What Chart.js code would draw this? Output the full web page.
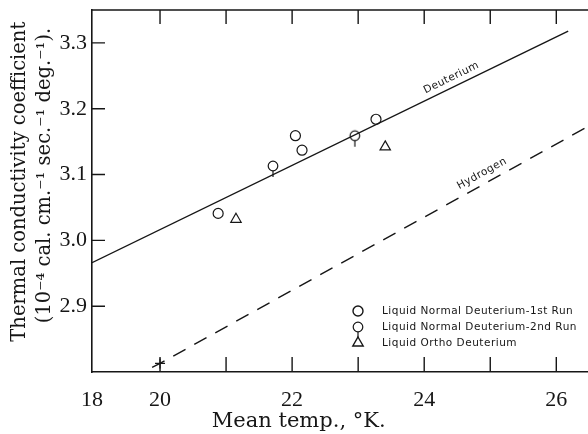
<!DOCTYPE html>
<html>
<head>
<meta charset="utf-8">
<script src="https://cdn.jsdelivr.net/npm/chart.js@4.4.1/dist/chart.umd.min.js"></script>
<style>
  html, body { margin: 0; padding: 0; background: #fff; }
  #wrap { width: 588px; height: 434px; }
</style>
</head>
<body>
<div id="wrap"><canvas id="conductivityChart" width="588" height="434"></canvas></div>
<script>
// Fitted lines, end points
const deuteriumX = [18.97, 26.18];
const deuteriumY = [2.966, 3.318];
const hydrogenX = [19.88, 20.0, 26.48];
const hydrogenY = [2.807, 2.813, 3.173];

// Measured points
const run1X = [20.88, 22.05, 22.15, 23.27];
const run1Y = [3.041, 3.159, 3.137, 3.184];
const run2X = [21.71, 22.95];
const run2Y = [3.113, 3.159];
const orthoX = [21.15, 23.41];
const orthoY = [3.032, 3.142];

// Axes
const xMin = 18.97, xMax = 26.48;
const xTicks = [20, 21, 22, 23, 24, 25, 26];
const xTickLabels = ['18', '20', '', '22', '', '24', '', '26'];
const yMin = 2.8, yMax = 3.35;
const yTicks = [2.9, 3.0, 3.1, 3.2, 3.3];

const legendLabels = [
    'Liquid Normal Deuterium-1st Run',
    'Liquid Normal Deuterium-2nd Run',
    'Liquid Ortho Deuterium'
];

const ink = '#161616';
const toPoints = (xs, ys) => xs.map((v, i) => ({x: v, y: ys[i]}));

// circle with a little stem underneath (2nd run symbol)
function stemCircle() {
    const c = document.createElement('canvas');
    c.width = 14; c.height = 34;
    const g = c.getContext('2d');
    g.strokeStyle = ink; g.lineWidth = 1.2;
    g.beginPath(); g.arc(7, 17, 4.8, 0, Math.PI * 2); g.stroke();
    g.beginPath(); g.moveTo(7, 21.8); g.lineTo(7, 28); g.stroke();
    return c;
}
const stemIcon = stemCircle();

// labels written along a line at fraction t
function lineLabel(ctx, ds, text, t, lift) {
    const pts = ds.data;
    const p0 = pts[0], p1 = pts[pts.length - 1];
    const ang = Math.atan2(p1.y - p0.y, p1.x - p0.x);
    const px = p0.x + (p1.x - p0.x) * t, py = p0.y + (p1.y - p0.y) * t;
    ctx.save();
    ctx.translate(px + Math.sin(ang) * lift, py - Math.cos(ang) * lift);
    ctx.rotate(ang);
    ctx.fillText(text, 0, 0);
    ctx.restore();
}

const paperMarks = {
    id: 'paperMarks',
    afterDraw(chart) {
        const {ctx, chartArea: a, scales: {x, y}} = chart;
        ctx.save();
        ctx.strokeStyle = ink;
        ctx.lineWidth = 1.4;
        ctx.beginPath();
        ctx.moveTo(a.left, a.top); ctx.lineTo(a.right, a.top);
        xTicks.forEach(v => {
            const px = x.getPixelForValue(v);
            ctx.moveTo(px, a.bottom); ctx.lineTo(px, a.bottom - 15);
            ctx.moveTo(px, a.top); ctx.lineTo(px, a.top + 14);
        });
        yTicks.forEach(v => {
            const py = y.getPixelForValue(v);
            ctx.moveTo(a.left, py); ctx.lineTo(a.left + 13, py);
        });
        ctx.stroke();

        // names along the fitted lines
        ctx.fillStyle = ink;
        ctx.font = '10.5px "DejaVu Sans"';
        ctx.letterSpacing = '0.5px';
        ctx.textAlign = 'center';
        ctx.textBaseline = 'middle';
        lineLabel(ctx, chart.getDatasetMeta(0), 'Deuterium', 0.763, 9);
        lineLabel(ctx, chart.getDatasetMeta(1), 'Hydrogen', 0.768, 10);

        // legend, lower right inside the frame
        ctx.textAlign = 'left';
        const lx = 358, ly = 311, step = 16;
        [2, 3, 4].forEach((di, i) => {
            const ds = chart.data.datasets[di];
            ctx.fillStyle = 'rgba(0,0,0,0)';
            Chart.helpers.drawPoint(ctx, {
                pointStyle: ds.pointStyle, radius: ds.pointRadius,
                rotation: 0, borderWidth: 1.2
            }, lx, ly + i * step);
            ctx.fillStyle = ink;
            ctx.fillText(legendLabels[i], lx + 24, ly + i * step);
        });
        ctx.letterSpacing = '0px';

        // x axis title
        ctx.font = '21px "DejaVu Serif"';
        ctx.textAlign = 'center';
        ctx.fillText('Mean temp., °K.', x.getPixelForValue(22.1), 422);
        ctx.restore();
    }
};

new Chart(document.getElementById('conductivityChart'), {
    type: 'scatter',
    data: {
        datasets: [{
            label: 'Deuterium',
            type: 'line',
            data: toPoints(deuteriumX, deuteriumY),
            borderColor: ink,
            borderWidth: 1.4,
            pointRadius: 0
        }, {
            label: 'Hydrogen',
            type: 'line',
            data: toPoints(hydrogenX, hydrogenY),
            borderColor: ink,
            borderWidth: 1.4,
            borderDash: [14, 10],
            pointStyle: 'cross',
            pointRadius: [0, 5, 0],
            pointBorderWidth: 1.2
        }, {
            label: legendLabels[0],
            data: toPoints(run1X, run1Y),
            pointStyle: 'circle',
            pointRadius: 5,
            borderColor: ink,
            backgroundColor: 'rgba(0,0,0,0)',
            pointBorderWidth: 1.2
        }, {
            label: legendLabels[1],
            data: toPoints(run2X, run2Y),
            pointStyle: stemIcon,
            pointRadius: 5,
            borderColor: ink,
            backgroundColor: 'rgba(0,0,0,0)'
        }, {
            label: legendLabels[2],
            data: toPoints(orthoX, orthoY),
            pointStyle: 'triangle',
            pointRadius: 6,
            borderColor: ink,
            backgroundColor: 'rgba(0,0,0,0)',
            pointBorderWidth: 1.2
        }]
    },
    options: {
        responsive: false,
        animation: false,
        devicePixelRatio: 1,
        layout: {
            autoPadding: false,
            padding: { top: 10, right: 0, left: 0, bottom: 0 }
        },
        plugins: {
            legend: { display: false },
            tooltip: { enabled: false }
        },
        scales: {
            x: {
                type: 'linear',
                min: xMin,
                max: xMax,
                afterFit(scale) {
                    scale.height = 62;
                    scale.paddingLeft = 0;
                    scale.paddingRight = 0;
                },
                afterBuildTicks(scale) {
                    scale.ticks = [xMin].concat(xTicks).map(v => ({value: v}));
                },
                grid: { display: false, drawTicks: false },
                border: { display: true, color: ink, width: 1.6 },
                ticks: {
                    autoSkip: false,
                    maxRotation: 0,
                    padding: 15,
                    color: ink,
                    font: { family: 'Liberation Serif', size: 22 },
                    callback: (v, i) => xTickLabels[i]
                }
            },
            y: {
                min: yMin,
                max: yMax,
                afterFit(scale) {
                    scale.width = 92;
                    scale.paddingTop = 0;
                    scale.paddingBottom = 0;
                },
                afterBuildTicks(scale) {
                    scale.ticks = yTicks.map(v => ({value: v}));
                },
                grid: { display: false, drawTicks: false },
                border: { display: true, color: ink, width: 1.6 },
                ticks: {
                    padding: 5,
                    color: ink,
                    font: { family: 'Liberation Serif', size: 22 },
                    callback: v => v.toFixed(1)
                },
                title: {
                    display: true,
                    text: ['   Thermal conductivity coefficient',
                           '     (10\u207B\u2074 cal. cm.\u207B\u00B9 sec.\u207B\u00B9 deg.\u207B\u00B9).'],
                    color: ink,
                    font: { family: 'DejaVu Serif', size: 19.5, lineHeight: 1.25 },
                    padding: { top: 8, bottom: 0 }
                }
            }
        }
    },
    plugins: [paperMarks]
});
</script>
</body>
</html>
